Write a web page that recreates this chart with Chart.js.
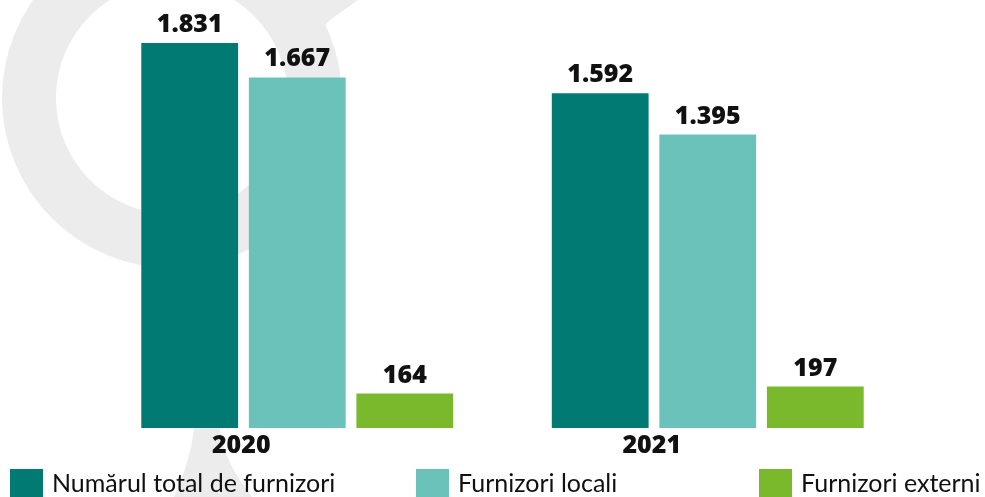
<!DOCTYPE html>
<html>
<head>
<meta charset="utf-8">
<script src="https://cdn.jsdelivr.net/npm/chart.js@4.4.1/dist/chart.umd.min.js"></script>
<style>
    html, body { margin: 0; padding: 0; background: #ffffff; }
    #wrap { width: 985px; height: 497px; position: relative; }
</style>
</head>
<body>
<div id="wrap"><canvas id="suppliersChart"></canvas></div>
<script>
const years = ['2020', '2021'];
const seriesNames = ['Numărul total de furnizori', 'Furnizori locali', 'Furnizori externi'];
const totalSuppliers = [1831, 1592];
const localSuppliers = [1667, 1395];
const externalSuppliers = [164, 197];

const colors = ['#007a73', '#6ac2bb', '#7ab92c'];

function formatValue(n) {
    return String(n).replace(/\B(?=(\d{3})+(?!\d))/g, '.');
}

// faint logo in the background
const watermark = {
    id: 'watermark',
    beforeDraw(chart) {
        const ctx = chart.ctx;
        ctx.save();
        ctx.fillStyle = '#ececec';
        // ring
        ctx.beginPath();
        ctx.arc(172, 98, 170, 0, Math.PI * 2);
        ctx.arc(172, 98, 116, 0, Math.PI * 2, true);
        ctx.fill('evenodd');
        // hook at the top
        ctx.beginPath();
        ctx.moveTo(300, 0);
        ctx.lineTo(358, 0);
        ctx.lineTo(330, 20);
        ctx.quadraticCurveTo(320, 28, 322, 42);
        ctx.lineTo(300, 60);
        ctx.closePath();
        ctx.fill();
        // stem at the bottom
        ctx.beginPath();
        ctx.moveTo(195, 260);
        ctx.lineTo(219, 260);
        ctx.lineTo(220, 430);
        ctx.quadraticCurveTo(224, 462, 252, 497);
        ctx.lineTo(174, 497);
        ctx.quadraticCurveTo(190, 462, 194, 430);
        ctx.closePath();
        ctx.fill();
        ctx.restore();
    }
};

const valueLabels = {
    id: 'valueLabels',
    afterDatasetsDraw(chart) {
        const ctx = chart.ctx;
        ctx.save();
        ctx.font = '800 25px "Open Sans"';
        ctx.fillStyle = '#111111';
        ctx.textAlign = 'center';
        ctx.textBaseline = 'alphabetic';
        chart.data.datasets.forEach((ds, i) => {
            chart.getDatasetMeta(i).data.forEach((bar, j) => {
                ctx.fillText(formatValue(ds.data[j]), bar.x, bar.y - 11);
            });
        });
        ctx.restore();
    }
};

const bottomLegend = {
    id: 'bottomLegend',
    afterDraw(chart) {
        const ctx = chart.ctx;
        const xs = [10, 416, 759];
        ctx.save();
        ctx.font = '25px Lato';
        ctx.textBaseline = 'alphabetic';
        ctx.textAlign = 'left';
        chart.data.datasets.forEach((ds, i) => {
            ctx.fillStyle = ds.backgroundColor;
            ctx.fillRect(xs[i], 469, 33, 33);
            ctx.fillStyle = '#111111';
            ctx.fillText(ds.label, xs[i] + 42, 492);
        });
        ctx.restore();
    }
};

new Chart(document.getElementById('suppliersChart'), {
    type: 'bar',
    data: {
        labels: years,
        datasets: [
            { label: seriesNames[0], data: totalSuppliers, backgroundColor: colors[0] },
            { label: seriesNames[1], data: localSuppliers, backgroundColor: colors[1] },
            { label: seriesNames[2], data: externalSuppliers, backgroundColor: colors[2] }
        ]
    },
    options: {
        responsive: true,
        maintainAspectRatio: false,
        animation: false,
        categoryPercentage: 0.786,
        barPercentage: 0.9,
        layout: { padding: { left: 92, right: 72, top: 0, bottom: 44 } },
        plugins: {
            legend: { display: false },
            tooltip: { enabled: false }
        },
        scales: {
            x: {
                grid: { display: false, drawTicks: false },
                border: { display: false },
                ticks: {
                    color: '#111111',
                    padding: 3,
                    labelOffset: -56,
                    font: { family: 'Open Sans', size: 25, weight: '800' }
                },
                afterFit(scale) { scale.height = 25; }
            },
            y: {
                display: false,
                min: 0,
                max: 2035
            }
        }
    },
    plugins: [watermark, valueLabels, bottomLegend]
});
</script>
</body>
</html>
